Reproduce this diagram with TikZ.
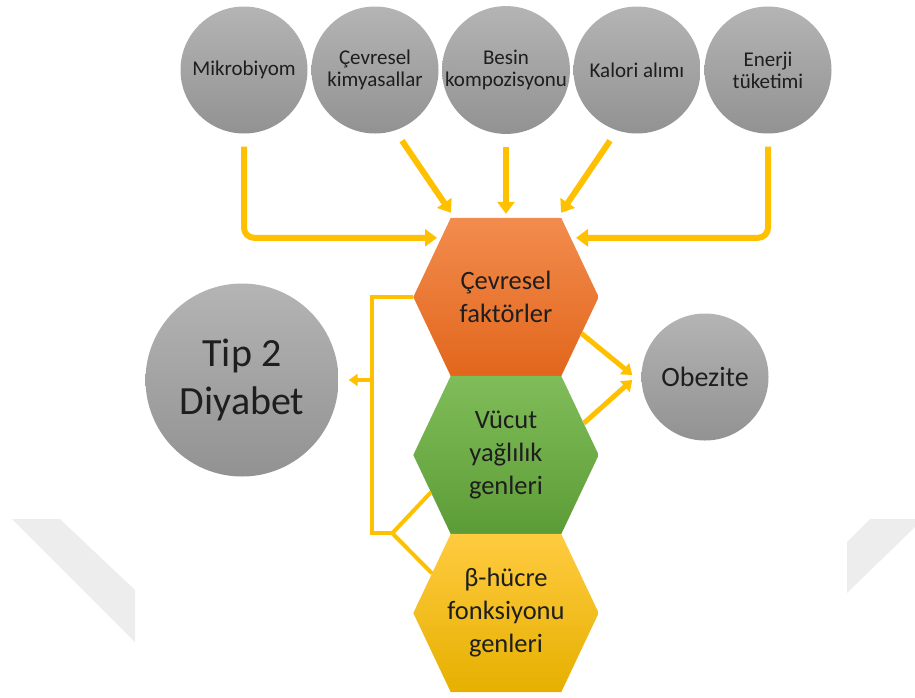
\documentclass[tikz,border=0pt]{standalone}
\usepackage{fontspec}
\setmainfont{Carlito}
\usetikzlibrary{arrows.meta,calc,backgrounds}
\definecolor{arrc}{HTML}{FFC000}
\definecolor{cgt}{HTML}{B4B4B4}
\definecolor{cgb}{HTML}{929292}
\definecolor{ort}{HTML}{F28C4E}
\definecolor{orb}{HTML}{E2661C}
\definecolor{grt}{HTML}{80BD5A}
\definecolor{grb}{HTML}{5C9C36}
\definecolor{yet}{HTML}{FFCB40}
\definecolor{yeb}{HTML}{E6B000}
\definecolor{wmc}{HTML}{EDEDED}
\definecolor{txt}{HTML}{1E1E1E}
\newcommand\hexfill[3]{\shade[top color=#2,bottom color=#3]
  ([xshift=37.5pt]#1.north west) -- ([xshift=-37.5pt]#1.north east) -- (#1.east) --
  ([xshift=-37.5pt]#1.south east) -- ([xshift=37.5pt]#1.south west) -- (#1.west) -- cycle;}
\begin{document}
\begin{tikzpicture}[x=1pt,y=-1pt,
  topc/.style={circle, minimum size=127pt, inner sep=0pt, top color=cgt, bottom color=cgb,
    align=center, text=txt, font=\fontsize{21}{22}\selectfont},
  hexbox/.style={rectangle, minimum width=185pt, minimum height=158pt, inner sep=0pt,
    align=center, text=txt, font=\fontsize{26.5}{33}\selectfont},
  arr/.style={draw=arrc, line width=6pt, -{Triangle[length=12pt,width=17pt]}},
  fb/.style={draw=arrc, line width=4pt},
  fbarr/.style={draw=arrc, line width=4pt, -{Triangle[length=9pt,width=12pt]}},
  obarr/.style={draw=arrc, line width=5pt, -{Triangle[length=10pt,width=14pt]}},
  wm/.style={fill=wmc}
]
\useasboundingbox (0,0) rectangle (915,697);

% top circles
\node[topc] (c1) at (244,70) {Mikrobiyom};
\node[topc] (c2) at (375,70) {Çevresel\\kimyasallar};
\node[topc] (c3) at (506,70) {Besin\\kompozisyonu};
\node[topc] (c4) at (637,70) {Kalori alımı};
\node[topc] (c5) at (768,70) {Enerji\\tüketimi};

% hexagons (text nodes)
\node[hexbox] (h1) at (506,297) {Çevresel\\faktörler};
\node[hexbox] (h2) at (506,455) {Vücut\\yağlılık\\genleri};
\node[hexbox] (h3) at (506,613) {β-hücre\\fonksiyonu\\genleri};

% outcome circles
\node[topc, minimum size=193pt, font=\fontsize{40}{48}\selectfont] (t2) at (242,380) {Tip 2\\Diyabet};
\node[topc, font=\fontsize{28}{30}\selectfont] (ob) at (705,377) {Obezite};

\begin{scope}[on background layer]
  \fill[wm] (12,519) -- (60,519) -- (135,590) -- (135,642) -- cycle;
  \fill[wm] (847,542) -- (870,519) -- (915,519) -- (915,527) -- (847,593) -- cycle;
  \hexfill{h1}{ort}{orb}
  \hexfill{h2}{grt}{grb}
  \hexfill{h3}{yet}{yeb}
\end{scope}

% helper coordinates on hexagon corners
\coordinate (h1br) at ([xshift=-37.5pt]h1.south east);
\coordinate (h2tr) at ([xshift=-37.5pt]h2.north east);
\coordinate (h2bl) at ([xshift=37.5pt]h2.south west);
\coordinate (h3tl) at ([xshift=37.5pt]h3.north west);

% input arrows
\draw[arr, rounded corners=10pt] ([shift={(0,13)}]c1.south) |- ([shift={(-69,20)}]h1.north);
\draw[arr] ([shift={(27,7)}]c2.south) -- ([shift={(-55,-5)}]h1.north);
\draw[arr] ([shift={(0,13)}]c3.south) -- ([shift={(0,-4)}]h1.north);
\draw[arr] ([shift={(-27,7)}]c4.south) -- ([shift={(55,-5)}]h1.north);
\draw[arr, rounded corners=10pt] ([shift={(0,13)}]c5.south) |- ([shift={(70,20)}]h1.north);

% feedback to Tip 2 Diyabet
\coordinate (j) at ([shift={(-41,-1)}]h2.south west);
\coordinate (k) at ([shift={(20,0)}]j);
\draw[fb] (h1.west) -| (j) -- (k);
\draw[fb] (k) -- ($(h2.west)!0.47!(h2bl)$);
\draw[fb] (k) -- ($(h3.west)!0.5!(h3tl)$);
\draw[fbarr] (j |- t2.east) -- ([xshift=10pt]t2.east);

% arrows to Obezite
\draw[obarr] ($(h1.east)!0.46!(h1br)$) -- ([shift={(-9,-2)}]ob.west);
\draw[obarr] ($(h2tr)!0.6!(h2.east)$) -- ([shift={(-9,3)}]ob.west);
\end{tikzpicture}
\end{document}
